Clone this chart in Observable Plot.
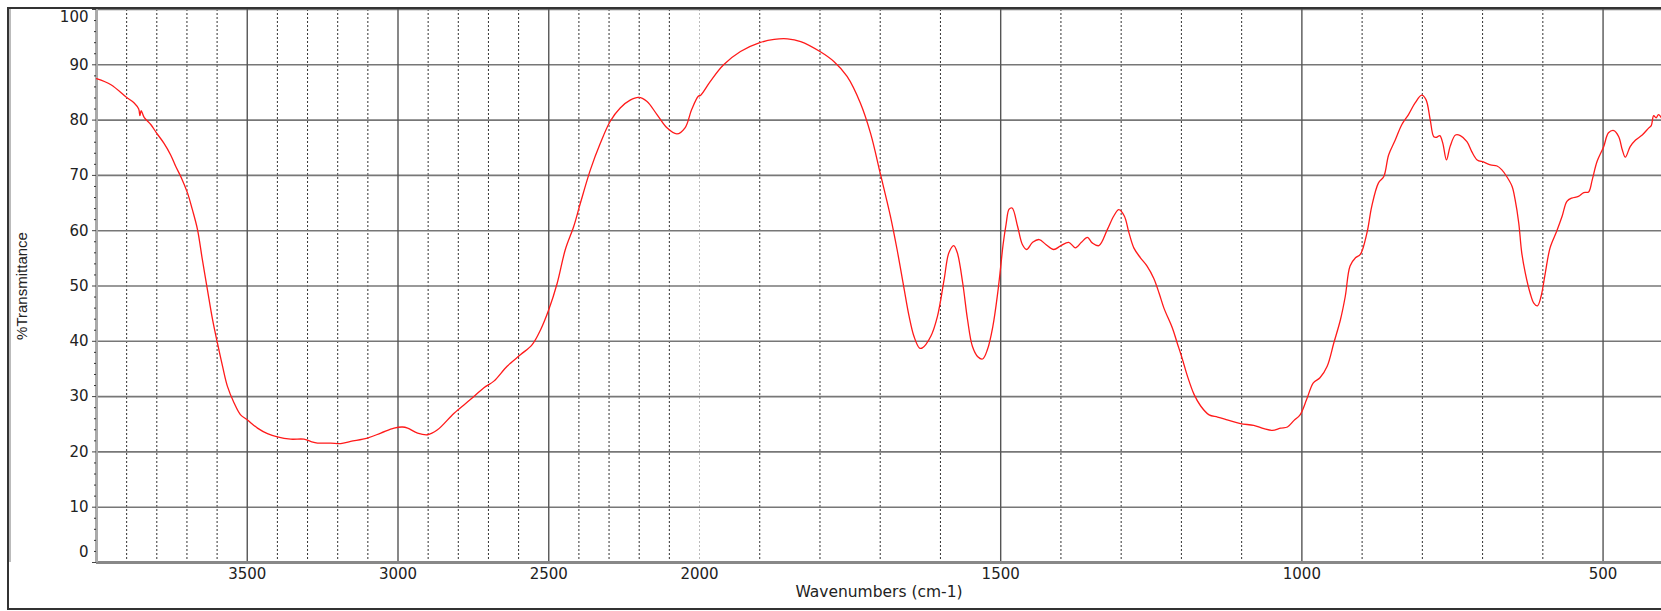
<!DOCTYPE html>
<html>
<head>
<meta charset="utf-8">
<script src="https://cdn.jsdelivr.net/npm/d3@7"></script>
<script src="https://cdn.jsdelivr.net/npm/@observablehq/plot@0.6"></script>
<style>
  html, body { margin: 0; padding: 0; background: #fff; }
  #wrap { position: relative; width: 1661px; height: 611px; overflow: hidden; }
  #frame { position: absolute; left: 7px; top: 7px; width: 1700px; height: 599px;
           border-left: 2px solid #333; border-top: 2px solid #333; border-bottom: 2px solid #333;
           pointer-events: none; }
  #inner { position: absolute; left: 9px; top: 9px; width: 2px; height: 553px; background: #bbb; pointer-events: none; }
</style>
</head>
<body>
<div id="wrap"><div id="frame"></div><div id="inner"></div></div>
<script>
// ---- data ----
const wavenumbers = [
  4000, 3952, 3900, 3875, 3860, 3856, 3852, 3842, 3820, 3800, 3776, 3754, 3737, 3718, 3698, 3682, 3665, 3649, 3632, 3615,
  3599, 3582, 3566, 3544, 3522, 3500, 3466, 3433, 3400, 3356, 3312, 3290, 3267, 3223, 3190, 3157, 3102, 3057, 3013, 2985,
  2968, 2935, 2902, 2869, 2814, 2759, 2715, 2682, 2638, 2593, 2555, 2527, 2500, 2472, 2445, 2417, 2395, 2362, 2329, 2296,
  2263, 2230, 2202, 2175, 2141, 2108, 2075, 2048, 2026, 2004, 1998, 1982, 1960, 1932, 1900, 1876, 1854, 1832, 1800, 1777,
  1755, 1733, 1716, 1700, 1683, 1672, 1661, 1652, 1644, 1635, 1630, 1616, 1605, 1594, 1586, 1578, 1572, 1563, 1555, 1547,
  1538, 1530, 1522, 1513, 1505, 1500, 1496, 1491, 1486, 1481, 1472, 1464, 1457, 1447, 1436, 1425, 1412, 1400, 1387, 1376,
  1366, 1356, 1348, 1337, 1323, 1312, 1304, 1295, 1287, 1279, 1268, 1257, 1246, 1237, 1229, 1215, 1207, 1199, 1190, 1179,
  1168, 1154, 1140, 1124, 1102, 1080, 1063, 1049, 1035, 1024, 1013, 1003, 992, 981, 970, 958, 947, 936, 928, 920,
  911, 903, 892, 884, 873, 864, 856, 845, 834, 823, 812, 801, 794, 787, 781, 776, 771, 766, 760, 754,
  745, 737, 726, 718, 709, 698, 687, 676, 668, 660, 651, 646, 640, 635, 629, 621, 615, 609, 603, 596,
  588, 577, 568, 560, 552, 541, 532, 524, 518, 510, 499, 491, 482, 474, 468, 463, 455, 446, 435, 424,
  420, 416, 412, 408, 403
];
const transmittance = [
  87.5, 86.4, 84.1, 83.1, 82.0, 80.8, 81.7, 80.5, 79.2, 77.6, 75.8, 73.7, 71.6, 69.5, 66.8, 63.8, 60.2, 54.8, 49.3, 43.9,
  39.7, 35.5, 31.9, 28.9, 26.7, 25.8, 24.3, 23.3, 22.7, 22.3, 22.3, 21.9, 21.6, 21.6, 21.5, 21.9, 22.5, 23.4, 24.3, 24.5,
  24.3, 23.4, 23.1, 24.0, 27.0, 29.5, 31.6, 32.8, 35.5, 37.6, 39.4, 42.1, 45.7, 50.5, 56.6, 60.8, 65.0, 71.0, 75.8, 79.8,
  82.2, 83.6, 84.1, 83.4, 81.0, 78.6, 77.5, 78.6, 81.9, 84.3, 84.5, 87.0, 90.0, 92.4, 94.0, 94.6, 94.7, 94.2, 92.4, 90.6,
  87.9, 83.1, 77.6, 70.4, 62.6, 56.6, 49.9, 44.5, 40.9, 38.8, 38.8, 40.9, 44.5, 51.1, 56.0, 57.3, 56.0, 50.5, 43.9, 39.1,
  37.2, 36.8, 38.5, 42.7, 48.7, 53.5, 57.5, 61.2, 63.9, 64.1, 60.8, 57.5, 56.6, 57.9, 58.4, 57.5, 56.6, 57.3, 57.9, 56.9,
  57.9, 58.8, 57.8, 57.3, 60.2, 62.7, 63.8, 62.7, 59.6, 56.9, 55.1, 53.6, 51.4, 48.7, 46.0, 42.4, 39.7, 37.0, 33.7, 30.4,
  28.3, 26.7, 26.3, 25.8, 25.1, 24.8, 24.2, 23.9, 24.3, 24.5, 25.7, 26.7, 29.5, 32.5, 33.4, 35.5, 39.7, 43.9, 48.1, 53.6,
  55.1, 55.7, 59.6, 64.4, 68.6, 69.8, 73.7, 76.4, 79.2, 81.0, 83.1, 84.5, 83.7, 80.1, 77.0, 76.9, 77.2, 75.8, 72.8, 75.2,
  77.3, 77.2, 76.1, 74.3, 72.8, 72.4, 71.9, 71.7, 71.0, 69.8, 68.0, 65.6, 61.4, 56.0, 52.3, 48.7, 46.9, 46.4, 48.1, 52.3,
  56.9, 59.9, 62.6, 65.3, 65.9, 66.2, 66.9, 67.0, 69.2, 72.5, 75.2, 77.7, 78.1, 77.0, 74.6, 73.3, 75.2, 76.4, 77.3, 78.6,
  79.0, 80.8, 80.4, 81.0, 80.4
];
const xMajorTicks = [3500, 3000, 2500, 1500, 1000, 500];
const xLabelTicks = [3500, 3000, 2500, 2000, 1500, 1000, 500];
const xBreakLine = [2000];
const xMinorTicks = [3900, 3800, 3700, 3600, 3400, 3300, 3200, 3100, 2900, 2800, 2700, 2600,
  2400, 2300, 2200, 2100, 1900, 1800, 1700, 1600, 1400, 1300, 1200, 1100, 900, 800, 700, 600];
const yGridTicks = [10, 20, 30, 40, 50, 60, 70, 80, 90, 100];
const yLabelTicks = [10, 20, 30, 40, 50, 60, 70, 80, 90];
const yTopLabel = [100];
const yBottomLabel = [0];
const yMinorTicks = [2, 4, 6, 8, 12, 14, 16, 18, 22, 24, 26, 28, 32, 34, 36, 38, 42, 44, 46, 48,
  52, 54, 56, 58, 62, 64, 66, 68, 72, 74, 76, 78, 82, 84, 86, 88, 92, 94, 96, 98];
const xTitle = "Wavenumbers (cm-1)";
const yTitle = "%Transmittance";

const spectrum = wavenumbers.map((w, i) => ({w, t: transmittance[i]}));

const labelFont = "DejaVu Sans";
const chart = Plot.plot({
  width: 1661,
  height: 611,
  marginLeft: 96,
  marginRight: 0,
  marginTop: 9,
  marginBottom: 49,
  style: {background: "transparent", fontFamily: labelFont, fontSize: "15px", color: "#222"},
  x: {type: "linear", domain: [4000, 2000, 403], range: [96, 699, 1661], axis: null},
  y: {domain: [0, 100]},
  marks: [
    Plot.ruleX(xMinorTicks, {stroke: "#333", strokeWidth: 1, strokeDasharray: "2,2"}),
    Plot.ruleX(xBreakLine, {stroke: "#bbb", strokeWidth: 1, strokeDasharray: "2,2"}),
    Plot.ruleY(yGridTicks, {stroke: "#777", strokeWidth: 1.6}),
    Plot.ruleX(xMajorTicks, {stroke: "#555", strokeWidth: 1.4}),
    Plot.ruleY([0], {stroke: "#888", strokeWidth: 3}),
    Plot.ruleX([4000], {stroke: "#aaa", strokeWidth: 3}),
    Plot.axisY(yMinorTicks, {tickSize: 2, tickFormat: () => "", stroke: "#333", label: null}),
    Plot.axisY(yGridTicks.concat([0]), {tickSize: 4, tickFormat: () => "", stroke: "#444", label: null}),
    Plot.text(yLabelTicks, {y: d => d, text: d => String(d), frameAnchor: "left", textAnchor: "end", dx: -8, fontFamily: labelFont, fontSize: 15, fill: "#222"}),
    Plot.text(yTopLabel, {y: d => d, text: d => String(d), frameAnchor: "left", textAnchor: "end", dx: -8, dy: 8, fontFamily: labelFont, fontSize: 15, fill: "#222"}),
    Plot.text(yBottomLabel, {y: d => d, text: d => String(d), frameAnchor: "left", textAnchor: "end", dx: -8, dy: -10, fontFamily: labelFont, fontSize: 15, fill: "#222"}),
    Plot.text(xLabelTicks, {x: d => d, text: d => String(d), frameAnchor: "bottom", lineAnchor: "top", dy: 6, fontFamily: labelFont, fontSize: 15, fill: "#222"}),
    Plot.text([xTitle], {text: d => d, frameAnchor: "bottom", dy: 34, fontFamily: labelFont, fontSize: 15.5, fill: "#222"}),
    Plot.text([yTitle], {text: d => d, frameAnchor: "left", textAnchor: "middle", rotate: -90, dx: -74, fontFamily: "Liberation Sans, Arial", fontSize: 15, fill: "#222"}),
    Plot.line(spectrum, {x: "w", y: "t", stroke: "#ff1a1a", strokeWidth: 1.3, curve: "catmull-rom"})
  ]
});
document.getElementById("wrap").prepend(chart);
</script>
</body>
</html>
